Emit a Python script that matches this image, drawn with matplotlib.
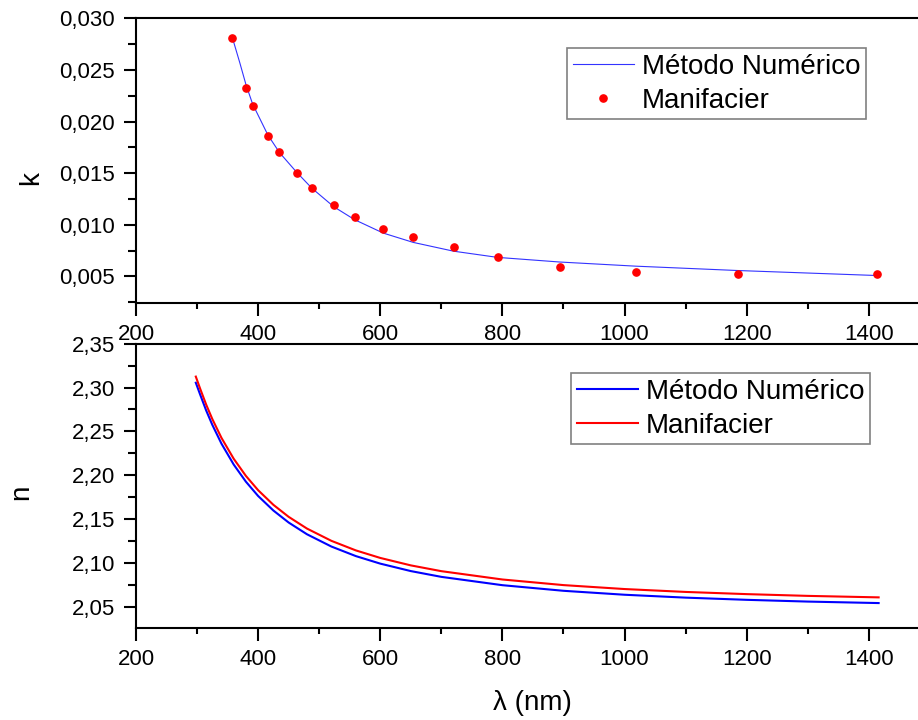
import matplotlib
matplotlib.use("Agg")
import matplotlib.pyplot as plt
from matplotlib.ticker import MultipleLocator, FuncFormatter

plt.rcParams['font.family'] = ['Liberation Sans', 'DejaVu Sans']

# ---- dados ----
# k: pontos de Manifacier
lam_k_man = [358, 380, 391, 417, 435, 463, 488, 524, 558, 605, 654, 720, 792, 894, 1018, 1185, 1414]
k_man = [0.02806, 0.02323, 0.02151, 0.01861, 0.01703, 0.01503, 0.01361, 0.01194, 0.01075,
         0.00964, 0.00887, 0.00790, 0.00693, 0.00594, 0.00545, 0.00526, 0.00526]

# k: método numérico (curva)
lam_k_num = [358, 370, 380, 391, 416, 435, 463, 488, 524, 558, 605, 654, 720, 792, 894, 1018, 1184, 1410]
k_num = [0.0281, 0.0257, 0.0236, 0.0217, 0.0187, 0.0170, 0.0151, 0.01355, 0.01175, 0.0105,
         0.0092, 0.0083, 0.00745, 0.00685, 0.0064, 0.0060, 0.00558, 0.0051]

# n: ambas as curvas
lam_n = [298, 305, 315, 325, 340, 360, 380, 400, 425, 450, 480, 520, 560, 600, 650, 700,
         800, 900, 1000, 1100, 1200, 1300, 1416]
n_man = [2.3125, 2.2989, 2.2805, 2.2641, 2.2426, 2.2188, 2.1992, 2.1829, 2.1662, 2.1525,
         2.1391, 2.1251, 2.1142, 2.1056, 2.0971, 2.0905, 2.0810, 2.0746, 2.0701, 2.0668,
         2.0643, 2.0623, 2.0606]
n_num = [2.3055, 2.2922, 2.2738, 2.2575, 2.2360, 2.2122, 2.1926, 2.1763, 2.1597, 2.1460,
         2.1326, 2.1186, 2.1077, 2.0991, 2.0906, 2.0840, 2.0745, 2.0681, 2.0636, 2.0603,
         2.0578, 2.0558, 2.0541]


def estilo(ax, ymaj, ymin, fmt):
    for s in ['left', 'bottom', 'top', 'right']:
        ax.spines[s].set_linewidth(1.5)
    ax.xaxis.set_major_locator(MultipleLocator(200))
    ax.xaxis.set_minor_locator(MultipleLocator(100))
    ax.yaxis.set_major_locator(MultipleLocator(ymaj))
    ax.yaxis.set_minor_locator(MultipleLocator(ymin))
    ax.yaxis.set_major_formatter(FuncFormatter(lambda v, p: fmt.format(v).replace('.', ',')))
    ax.tick_params(which='major', direction='out', length=9, width=1.5, labelsize=16)
    ax.tick_params(axis='x', which='major', pad=6)
    ax.tick_params(axis='y', which='major', pad=6)
    ax.tick_params(axis='y', which='minor', direction='out', length=6, width=1.5)
    ax.tick_params(axis='x', which='minor', direction='out', length=4.5, width=1.5)
    ax.set_xlim(200, 1500)


def legenda(ax, x0, y0):
    leg = ax.legend(loc='upper left', bbox_to_anchor=(x0 / 918, 1 - y0 / 720),
                    bbox_transform=fig.transFigure, borderaxespad=0, fontsize=20,
                    frameon=True, fancybox=False, edgecolor='#808080', framealpha=1,
                    borderpad=0.2, labelspacing=0.3, handlelength=2.2, handletextpad=0.3,
                    numpoints=1)
    leg.get_frame().set_linewidth(1.2)


fig = plt.figure(figsize=(9.18, 7.2), dpi=100)
ax1 = fig.add_axes([0.1481, 0.5787, 0.8649, 0.3959])
ax2 = fig.add_axes([0.1481, 0.1282, 0.8649, 0.3944])

# ---- painel superior: k ----
ax1.plot(lam_k_num, k_num, color='#3333ff', lw=0.8, label='Método Numérico')
ax1.plot(lam_k_man, k_man, 'o', color='red', ms=5.2, mec='red', label='Manifacier')
estilo(ax1, 0.005, 0.0025, '{:.3f}')
ax1.set_ylim(0.0024, 0.030)
ax1.set_ylabel('k', fontsize=20)
ax1.yaxis.set_label_coords(-0.116, 0.44)
legenda(ax1, 567, 48)

# ---- painel inferior: n ----
ax2.plot(lam_n, n_num, color='#0000ff', lw=1.5, label='Método Numérico')
ax2.plot(lam_n, n_man, color='#ff0000', lw=1.5, label='Manifacier')
estilo(ax2, 0.05, 0.025, '{:.2f}')
ax2.set_ylim(2.026, 2.35)
ax2.set_ylabel('n', fontsize=20)
ax2.yaxis.set_label_coords(-0.128, 0.478)
legenda(ax2, 571, 373)

fig.text(532.5 / 918, 1 - 703 / 720, 'λ (nm)', fontsize=20, ha='center', va='center')

fig.savefig('out.png', dpi=100)
